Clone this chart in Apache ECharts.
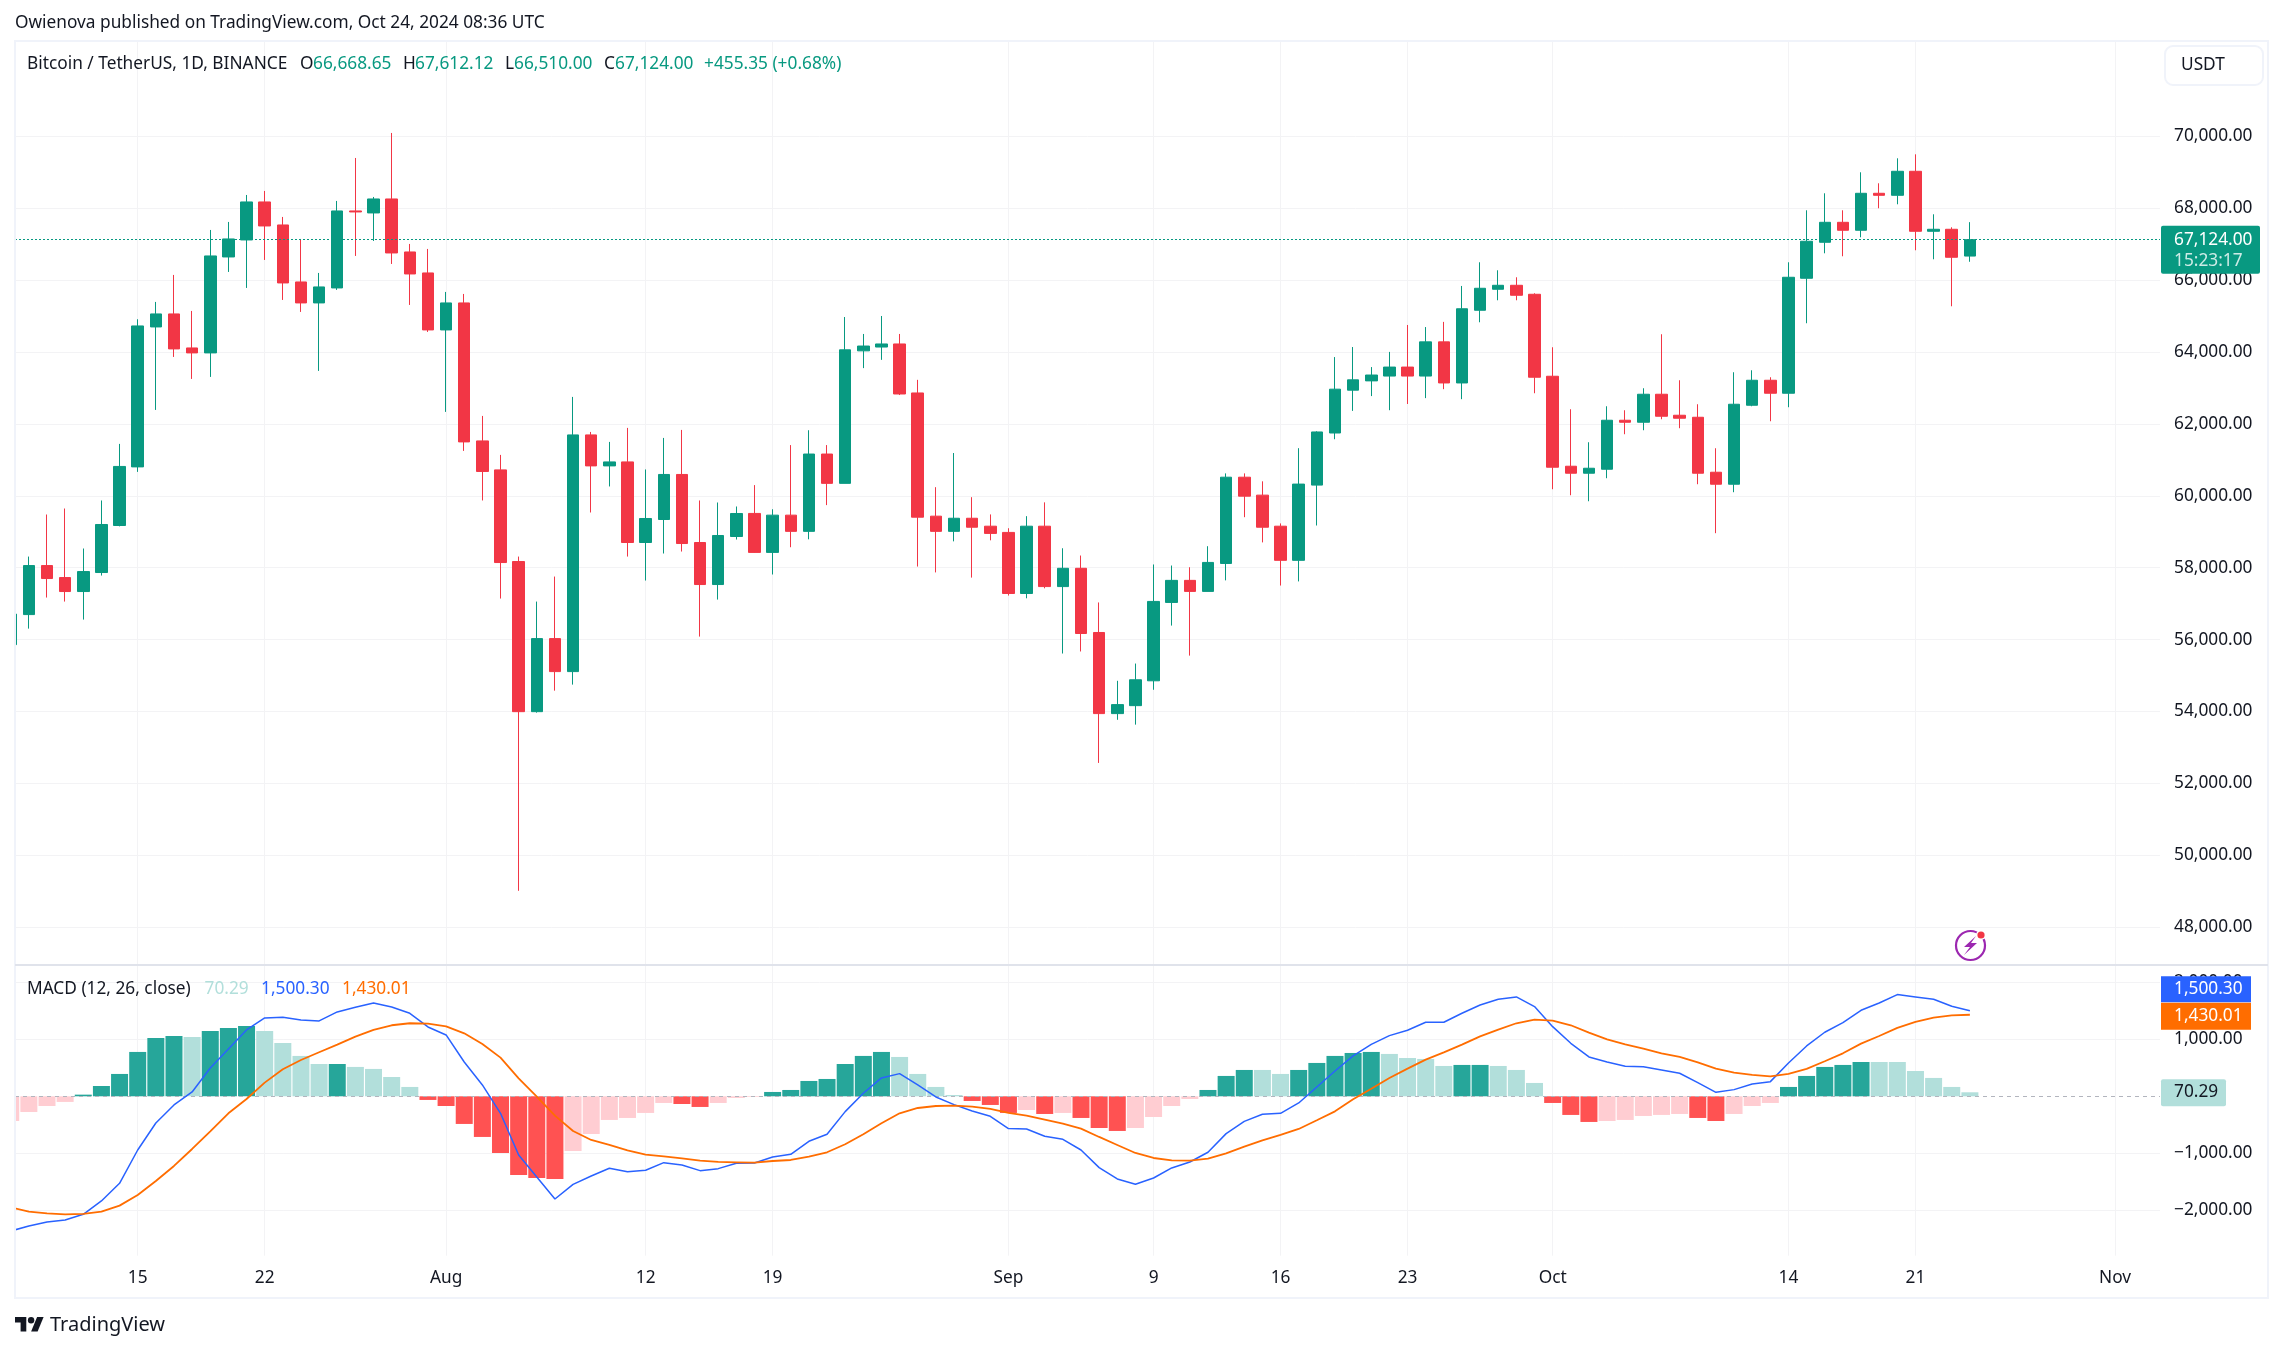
<!DOCTYPE html>
<html><head><meta charset="utf-8">
<style>html,body{margin:0;padding:0;background:#fff}#c{width:2283px;height:1351px}</style>
<script src="https://cdn.jsdelivr.net/npm/echarts@6/dist/echarts.min.js"></script>
</head><body><div id="c"></div>
<script>
// Days counted from 15 Jul 2024; the first candle is 8 Jul, the last 24 Oct.
const firstDay = -7;
const opens = [55860,56696,58060,57726,57337,57866,59174,60804,64697,65059,64113,63975,66644,67117,68174,67534,65949,65365,65782,67924,67868,68257,66783,66199,
64614,65365,61527,60721,58172,53996,56028,55110,61694,60832,60943,58701,59341,60594,58701,57532,58868,59510,58426,59462,59011,61162,60346,64032,64138,64224,62861,59434,59011,59376,59155,
58982,57283,59155,57475,57984,56198,53942,54163,54854,57034,57648,57341,58118,60518,60019,59155,58205,60298,61747,62938,63197,63331,63581,63331,64282,63139,65161,65745,65856,
65606,63326,60823,60628,60739,62102,62046,62825,62241,62185,60656,60322,62519,63214,62853,66051,67052,67608,67386,68415,68359,69027,67358,67414,66668.65];
const highs = [56720,58310,59480,59647,58534,59870,61444,64911,65393,66144,65142,67395,67618,68368,68480,67757,67145,66199,68202,69397,68313,70093,67006,66867,
65671,65615,62222,61138,58310,57058,57754,62751,61777,61499,61889,60733,61610,61833,59870,59814,59703,60298,59626,61411,61824,61411,64973,64502,65002,64502,63226,60240,61190,59962,59482,
59098,59434,59818,58541,58339,57034,54854,55334,58090,58061,58013,58598,60624,60624,60403,59232,61325,61795,63859,64138,63581,64003,64752,64694,64838,65837,66496,66273,66079,
65634,64132,62408,61490,62491,62380,62992,64494,63214,62547,61323,63437,63492,63298,66496,67942,68415,67942,68999,68693,69388,69499,67831,67469,67612.12];
const lows = [55840,56306,57170,57058,56557,57782,59150,60665,62389,63863,63251,63307,66227,65782,66561,65448,65115,63474,65727,66672,67089,66449,65309,64558,
62334,61249,59870,57142,49013,53968,54580,54748,59536,60260,58310,57643,58395,58450,56084,57114,58784,58420,57811,58570,58790,59741,60346,63552,63782,62803,58032,57869,58733,57725,58762,
57226,57149,57427,55613,55670,52570,53770,53635,54605,56390,55555,57341,57648,59405,58704,57504,57619,59174,61574,62362,62774,62381,62554,62717,62966,62688,64827,65439,65439,
62853,60183,60016,59849,60489,61713,61824,62130,61880,60322,58960,60100,62491,62074,62464,64800,66746,66663,67191,67998,68109,66830,66579,65272,66510];
const closes = [56710,58060,57699,57337,57893,59202,60817,64725,65059,64086,63975,66672,67145,68174,67506,65921,65365,65810,67924,67896,68257,66755,66171,64614,
65365,61499,60677,58144,53996,56028,55110,61694,60832,60943,58701,59369,60594,58673,57532,58896,59508,58426,59462,59011,61162,60346,64061,64166,64224,62832,59405,59011,59376,59126,58954,
57283,59155,57475,57984,56170,53942,54192,54883,57062,57648,57341,58147,60518,59990,59126,58205,60326,61776,62966,63226,63360,63581,63331,64282,63139,65203,65773,65856,65578,
63298,60795,60628,60767,62102,62046,62825,62213,62158,60628,60322,62547,63214,62853,66079,67080,67608,67386,68415,68359,69027,67358,67414,66635,67124];

const histValues = [-433,-275,-170,-99,29,181,392,778,1023,1058,1041,1146,1199,1234,1146,936,708,567,567,515,480,339,164,-64,
-170,-485,-713,-994,-1380,-1433,-1450,-959,-661,-415,-380,-292,-117,-135,-187,-117,-29,-12,76,111,269,304,567,708,778,690,392,164,23,-82,-152,
-292,-240,-310,-292,-380,-556,-608,-556,-363,-170,-47,111,357,462,462,392,462,585,708,760,778,743,672,655,532,550,550,532,462,234,
-117,-327,-450,-433,-415,-345,-327,-310,-380,-433,-310,-170,-117,164,357,515,550,602,602,602,444,322,164,70.29];
const histTone = ("lllldddddd" + "ldddllll" + "dllll" + "d" + "dddddddllllllddllldddddddlllldd" + "dldldddllllddd" + "lldddddllllddlll" + "dddllllldd" + "lllddddd" + "llllll").split("");
const macdValues = [-2363,-2275,-2205,-2170,-2070,-1836,-1526,-942,-468,-152,76,497,830,1164,1374,1386,1339,1322,1480,1561,1637,1567,1456,1216,
1076,602,199,-298,-1029,-1415,-1801,-1544,-1398,-1263,-1322,-1298,-1164,-1205,-1304,-1269,-1175,-1170,-1064,-1018,-789,-667,-269,53,322,398,199,-12,-146,-257,-351,
-567,-573,-702,-754,-942,-1251,-1450,-1544,-1433,-1257,-1152,-982,-655,-439,-316,-298,-117,164,444,708,912,1064,1158,1298,1298,1456,1602,1702,1743,1573,
1222,930,690,602,526,520,462,404,240,70,117,216,257,585,883,1123,1292,1509,1637,1784,1743,1702,1579,1500.30];
const signalValues = [-1947,-2023,-2053,-2070,-2064,-2023,-1918,-1731,-1485,-1222,-924,-614,-298,-47,240,474,637,772,906,1047,1164,1246,1281,1275,
1228,1105,918,678,316,-6,-339,-608,-766,-854,-947,-1023,-1053,-1088,-1129,-1152,-1158,-1164,-1135,-1117,-1058,-982,-842,-667,-474,-298,-205,-170,-164,-181,-222,
-292,-339,-409,-480,-567,-713,-854,-994,-1082,-1123,-1129,-1094,-1000,-883,-772,-678,-573,-421,-264,-52,134,321,486,643,770,906,1052,1170,1281,1345,
1327,1246,1117,1000,912,836,754,690,596,485,415,374,351,392,480,614,754,924,1058,1199,1304,1380,1421,1430.01];

const tickDays = [0,7,17,28,35,48,56,63,70,78,91,98,109];
const tickLabels = ["15","22","Aug","12","19","Sep","9","16","23","Oct","14","21","Nov"];
const priceTicks = [48000,50000,52000,54000,56000,58000,60000,62000,64000,66000,68000,70000];
const macdTicks = [-2000,-1000,1000,2000];

const GREEN="#089981", RED="#f23645", INK="#131722", FONT='"Noto Sans", sans-serif', FS=17.3;
const fmt = v => (v<0?"\u2212":"") + Math.abs(v).toLocaleString("en-US",{minimumFractionDigits:2,maximumFractionDigits:2});
const days = closes.map((_,i)=>firstDay+i);
const candleData = days.map((d,i)=>[d,opens[i],closes[i],lows[i],highs[i]]);
const histColors = {dp:"#26a69a",lp:"#b2dfdb",dn:"#ff5252",ln:"#ffcdd2"};
const histData = days.map((d,i)=>({value:[d,histValues[i]],itemStyle:{color:histColors[histTone[i]+(histValues[i]>=0?"p":"n")]}}));
const grid = "#f3f3f5";
const dayMin=-6.764, dayMax=111.48;
const xAxisBase = {type:"value",min:dayMin,max:dayMax,
  axisLine:{show:false},axisTick:{show:false,customValues:tickDays},
  splitLine:{show:true,lineStyle:{color:grid,width:1}}};
const txt=(x,y,text,fill,extra)=>({type:"text",x,y,silent:true,z:50,style:Object.assign({text,fill:fill||INK,font:FS+"px "+FONT,textVerticalAlign:"middle",textBaseline:"middle"},extra||{})});

const chart = echarts.init(document.getElementById("c"),null,{renderer:"canvas",width:2283,height:1351});
const yTop=41, ySep=965, yBot=1255.7;
chart.setOption({
  animation:false,backgroundColor:"#fff",
  grid:[{left:15,right:123,top:yTop,height:ySep-yTop},{left:15,right:123,top:ySep,height:yBot-ySep}],
  xAxis:[
    Object.assign({},xAxisBase,{gridIndex:0,axisLabel:{show:false,customValues:tickDays}}),
    Object.assign({},xAxisBase,{gridIndex:1,axisLabel:{show:true,customValues:tickDays,margin:14,color:INK,fontFamily:FONT,fontSize:FS,
      formatter:v=>tickLabels[tickDays.indexOf(v)]}})
  ],
  yAxis:[
    {gridIndex:0,type:"value",position:"right",min:46949,max:72651,
     axisLine:{show:false},axisTick:{show:false,customValues:priceTicks},
     axisLabel:{customValues:priceTicks,margin:14,color:INK,fontFamily:FONT,fontSize:FS,formatter:fmt,showMinLabel:true,showMaxLabel:true},
     splitLine:{show:true,lineStyle:{color:grid,width:1}}},
    {gridIndex:1,type:"value",position:"right",min:-2796,max:2303,
     axisLine:{show:false},axisTick:{show:false,customValues:macdTicks},
     axisLabel:{customValues:macdTicks,margin:14,color:INK,fontFamily:FONT,fontSize:FS,formatter:fmt},
     splitLine:{show:true,lineStyle:{color:grid,width:1}}}
  ],
  series:[
    {name:"BTCUSDT",type:"candlestick",xAxisIndex:0,yAxisIndex:0,barWidth:12,data:candleData,
     itemStyle:{color:GREEN,color0:RED,borderColor:GREEN,borderColor0:RED,borderWidth:1},
     markLine:{silent:true,symbol:"none",label:{show:false},lineStyle:{color:GREEN,type:[2,2],width:1},data:[{yAxis:closes[closes.length-1]}]}},
    {name:"Histogram",type:"bar",xAxisIndex:1,yAxisIndex:1,barWidth:17,data:histData,
     markLine:{silent:true,symbol:"none",label:{show:false},lineStyle:{color:"#b2b5be",type:[4,4],width:1},data:[{yAxis:0}]}},
    {name:"MACD",type:"line",xAxisIndex:1,yAxisIndex:1,showSymbol:false,symbol:"none",z:5,data:days.map((d,i)=>[d,macdValues[i]]),lineStyle:{color:"#2962ff",width:1.5}},
    {name:"Signal",type:"line",xAxisIndex:1,yAxisIndex:1,showSymbol:false,symbol:"none",z:6,data:days.map((d,i)=>[d,signalValues[i]]),lineStyle:{color:"#ff6d00",width:1.8}}
  ]
});

const lastClose=closes[closes.length-1], lastHist=histValues[histValues.length-1], lastMacd=macdValues[macdValues.length-1], lastSignal=signalValues[signalValues.length-1];
const yPrice=chart.convertToPixel({yAxisIndex:0},lastClose), yHist=chart.convertToPixel({yAxisIndex:1},lastHist), ySignal=chart.convertToPixel({yAxisIndex:1},lastSignal)+1;
const tag=(x,y,w,h,fill,r)=>({type:"rect",silent:true,z:40,shape:{x,y,width:w,height:h,r:r||0},style:{fill}});
const textX=2174, K="#131722";
chart.setOption({graphic:[
  {type:"rect",silent:true,z:20,shape:{x:0,y:30,width:14,height:1280},style:{fill:"#fff"}},
  {type:"rect",silent:true,z:21,shape:{x:15,y:41,width:2253,height:1257},style:{fill:"none",stroke:"#f0f3fa",lineWidth:2}},
  {type:"line",silent:true,z:30,shape:{x1:15,y1:965,x2:2268,y2:965},style:{stroke:"#e0e3eb",lineWidth:2}},
  txt(15,23,"Owienova published on TradingView.com, Oct 24, 2024 08:36 UTC"),
  txt(27,64,"Bitcoin / TetherUS, 1D, BINANCE"),
  txt(300,64,"O"),txt(313,64,fmt(66668.65),GREEN),
  txt(403,64,"H"),txt(415,64,fmt(67612.12),GREEN),
  txt(505,64,"L"),txt(514,64,fmt(66510),GREEN),
  txt(604,64,"C"),txt(615,64,fmt(67124),GREEN),
  txt(704,64,"+455.35 (+0.68%)",GREEN),
  txt(27,989,"MACD (12, 26, close)"),
  txt(204.5,989,fmt(lastHist),"#b2dfdb"),txt(261,989,fmt(lastMacd),"#2962ff"),txt(342,989,fmt(lastSignal),"#ff6d00"),
  {type:"rect",silent:true,z:40,shape:{x:2165,y:46,width:98,height:39,r:8},style:{fill:"#fff",stroke:"#f0f3fa",lineWidth:2}},
  txt(2181,65.5,"USDT"),
  tag(2161,yPrice-14,99,48,GREEN,2),
  txt(textX,yPrice,fmt(lastClose),"#fff"),
  txt(textX,yPrice+21,"15:23:17","rgba(255,255,255,.8)"),
  tag(2161,ySignal-26.5-13,90,26,"#2962ff"),
  txt(textX,ySignal-26.5,fmt(lastMacd),"#fff"),
  tag(2161,ySignal-13,90,27,"#ff6d00"),
  txt(textX,ySignal,fmt(lastSignal),"#fff"),
  tag(2161,yHist-13,65,27,"#b2dfdb",2),
  txt(textX,yHist,fmt(lastHist),INK),
  {type:"circle",silent:true,z:41,shape:{cx:1970.5,cy:945.5,r:14.5},style:{fill:"none",stroke:"#9c27b0",lineWidth:2.2}},
  {type:"circle",silent:true,z:42,shape:{cx:1981,cy:935,r:5},style:{fill:"#fff"}},
  {type:"circle",silent:true,z:43,shape:{cx:1981,cy:935,r:3.6},style:{fill:"#f23645"}},
  {type:"polygon",silent:true,z:41,shape:{points:[[1976,936],[1964,947],[1970,947],[1964,955],[1977,943],[1971,943]]},style:{fill:"#9c27b0"}},
  {type:"polygon",silent:true,z:41,shape:{points:[[15,1317],[26.3,1317],[26.3,1331.5],[20.6,1331.5],[20.6,1322.6],[15,1322.6]]},style:{fill:K}},
  {type:"polygon",silent:true,z:41,shape:{points:[[31.1,1331.5],[37.1,1317],[43.6,1317],[37.6,1331.5]]},style:{fill:K}},
  {type:"circle",silent:true,z:41,shape:{cx:31.1,cy:1320.2,r:3.2},style:{fill:K}},
  txt(50,1325.5,"TradingView",INK,{font:"20px "+FONT})
]});
</script></body></html>
